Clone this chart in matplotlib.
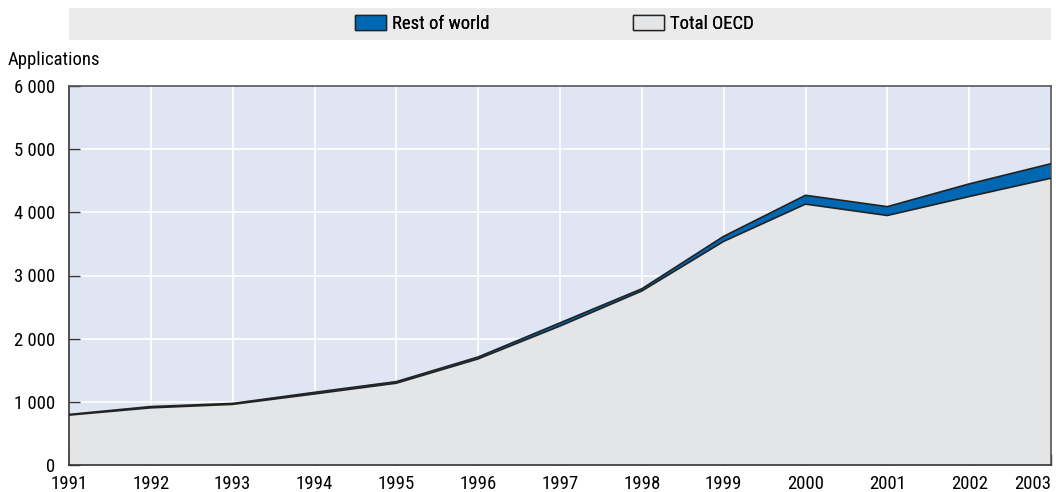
import numpy as np
import matplotlib.pyplot as plt
from matplotlib.patches import Rectangle, Patch
import matplotlib
from matplotlib import font_manager

names = {f.name for f in font_manager.fontManager.ttflist}
fam = [n for n in ['Liberation Sans Narrow', 'DejaVu Sans Condensed', 'Roboto Condensed',
                   'Liberation Sans'] if n in names]
matplotlib.rcParams['font.family'] = fam + ['DejaVu Sans']
matplotlib.rcParams['font.size'] = 13.5

years = [1991, 1992, 1993, 1994, 1995, 1996, 1997, 1998, 1999, 2000, 2001, 2002, 2003]
total_oecd = [790, 905, 960, 1125, 1295, 1680, 2200, 2755, 3540, 4130, 3950, 4250, 4540]
rest_of_world = [10, 20, 15, 25, 25, 30, 50, 35, 80, 140, 140, 200, 230]
yticks = [0, 1000, 2000, 3000, 4000, 5000, 6000]

W, H = 1056, 492
fig = plt.figure(figsize=(W / 100, H / 100), dpi=100)
ax = fig.add_axes([69 / W, (H - 465) / H, 982 / W, 379 / H])

# legend band
fig.patches.append(Rectangle((69 / W, (H - 40) / H), 982 / W, 32 / H,
                             transform=fig.transFigure, facecolor='#ebebeb',
                             edgecolor='none', zorder=0))

x = np.array(years)
oecd = np.array(total_oecd)
top = oecd + np.array(rest_of_world)

ax.set_facecolor('#dfe5f3')
ax.fill_between(x, 0, oecd, facecolor='#e4e5e7', edgecolor='none', zorder=2)
ax.fill_between(x, oecd, top, facecolor='#0068b3', edgecolor='none', zorder=2)
ax.plot(x, oecd, color='#222222', lw=1.2, zorder=3)
ax.plot(x, top, color='#222222', lw=1.2, zorder=3)

ax.set_xlim(1991, 2003)
ax.set_ylim(0, 6000)
ax.set_xticks(years)
ax.set_yticks(yticks)
ax.set_yticklabels([f'{v:,}'.replace(',', ' ') for v in yticks])
ax.grid(True, color='white', lw=1.2, zorder=1)
ax.set_axisbelow(True)
ax.tick_params(axis='both', direction='in', length=8, width=1, color='#333333',
               labelsize=13.5)
ax.tick_params(axis='y', pad=10)
ax.tick_params(axis='x', pad=7)
xl = ax.get_xticklabels()
xl[-1].set_horizontalalignment('right')
xl[-1].set_x(2003.05)
for s in ax.spines.values():
    s.set_color('#333333')
    s.set_linewidth(1.2)
ax.spines['top'].set_color('#555555')
ax.spines['right'].set_color('#555555')

fig.text(8 / W, (H - 60) / H, 'Applications', fontsize=13.5, va='center', ha='left')

h1 = [Patch(facecolor='#0068b3', edgecolor='#222222', label='Rest of world')]
h2 = [Patch(facecolor='#e4e5e7', edgecolor='#222222', label='Total OECD')]
for h, xpos in [(h1, 355), (h2, 633)]:
    leg = fig.legend(handles=h, loc='center left', bbox_to_anchor=(xpos / W, (H - 24) / H),
                     frameon=False, fontsize=13.5, handlelength=1.65, handleheight=0.9,
                     handletextpad=0.35, borderpad=0, borderaxespad=0)
    fig.add_artist(leg)

fig.savefig('out.png', dpi=100)
